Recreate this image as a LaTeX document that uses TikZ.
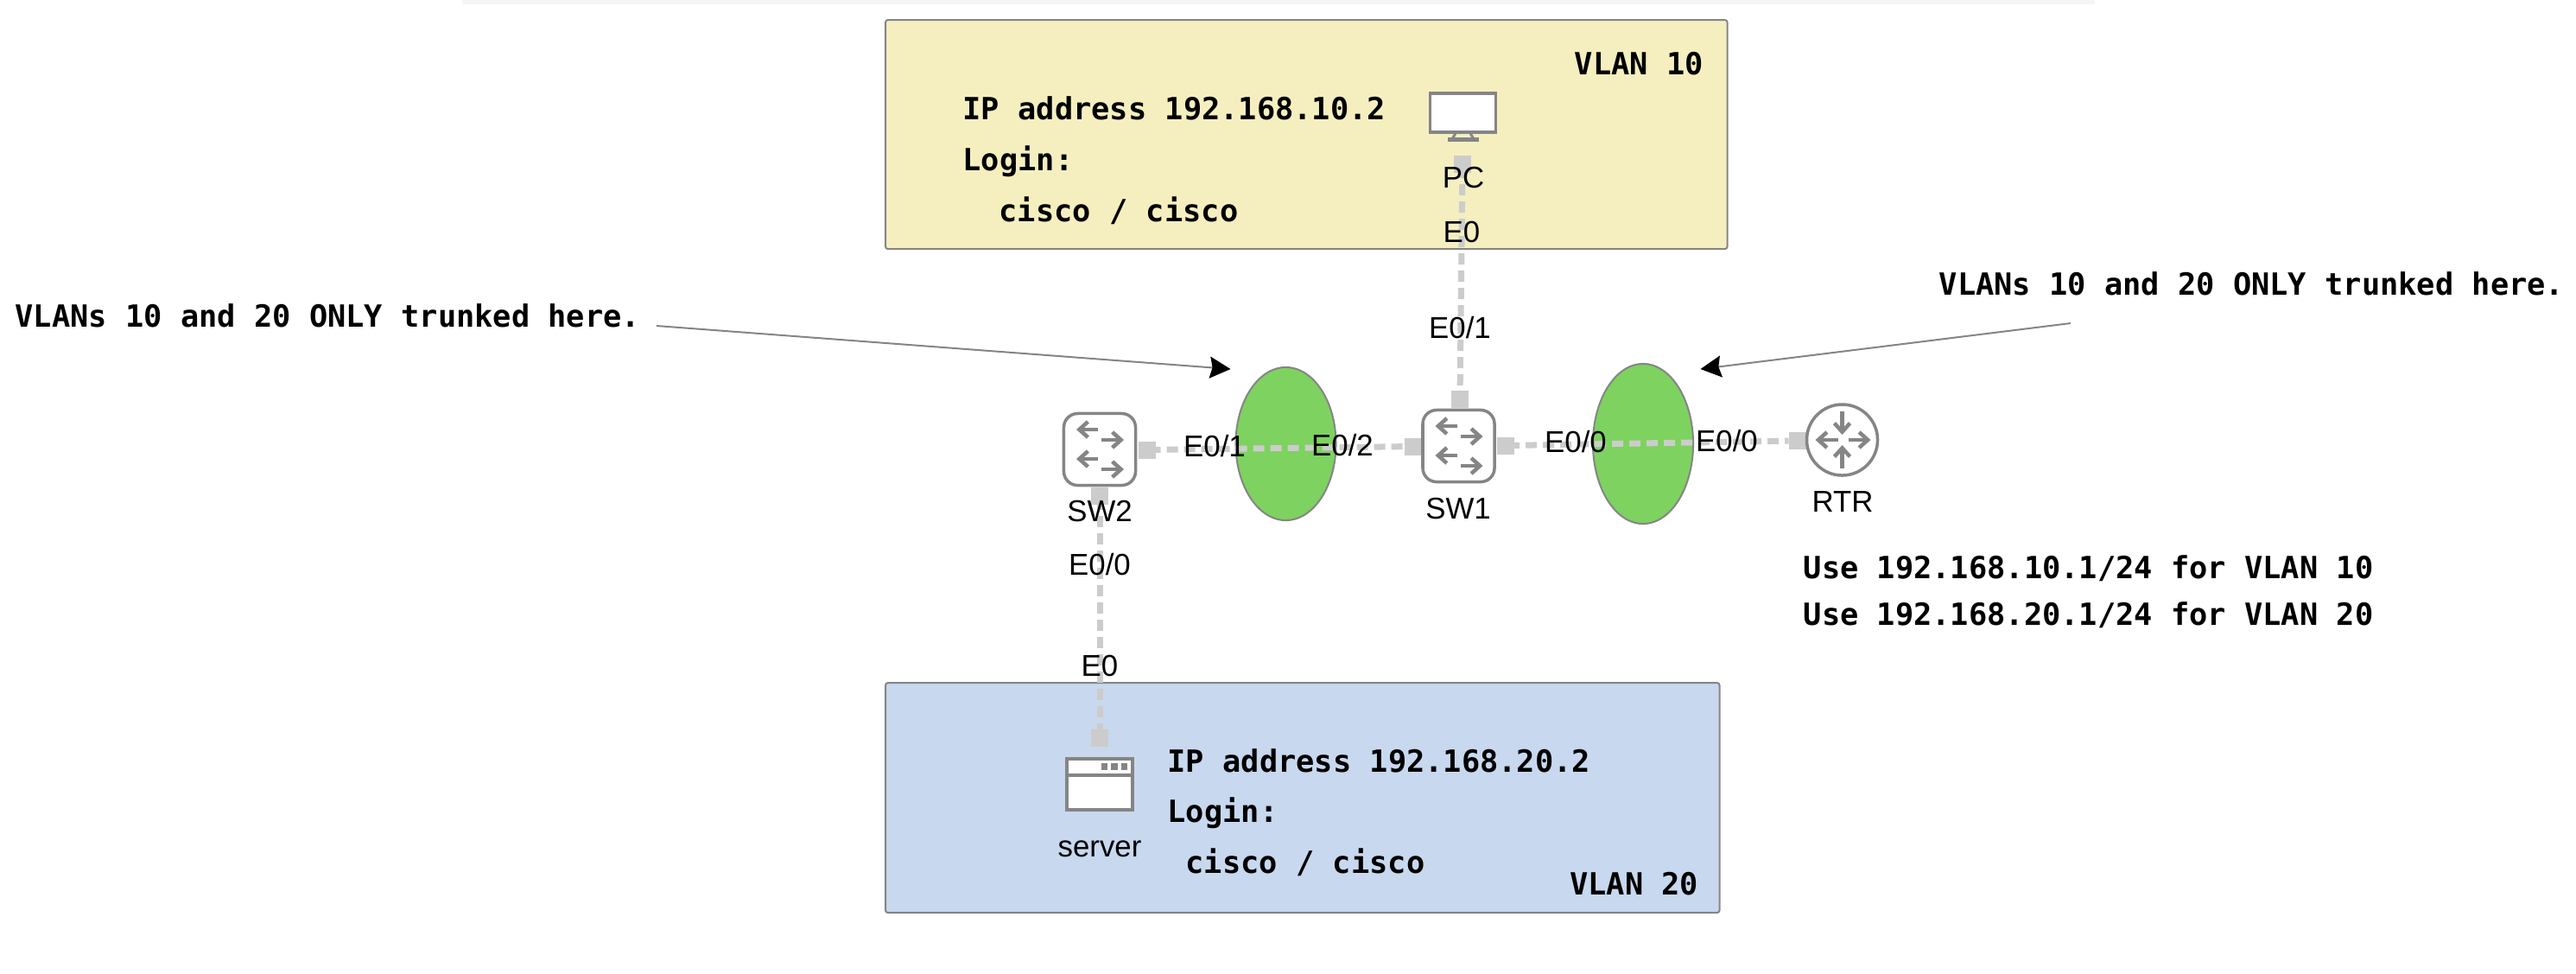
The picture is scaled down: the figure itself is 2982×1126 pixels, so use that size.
\documentclass[tikz,border=0pt]{standalone}
\usepackage{fontspec}
\setmainfont{Liberation Sans}
\setmonofont{DejaVu Sans Mono}
\usetikzlibrary{positioning,shapes.geometric,arrows.meta}

\definecolor{vlanyellow}{HTML}{F5EFC0}
\definecolor{vlanblue}{HTML}{C8D8EE}
\definecolor{trunkgreen}{HTML}{7ED25F}
\definecolor{linkgray}{HTML}{CCCCCC}
\definecolor{icongray}{HTML}{858585}

\tikzset{
    vlanbox/.style={draw=icongray, line width=0.02cm, rounded corners=0.03cm, anchor=north west, inner sep=0, outer sep=0},
    trunk/.style={ellipse, draw=icongray, fill=trunkgreen, line width=0.02cm, minimum width=1.16cm, inner sep=0, outer sep=0},
    link/.style={linkgray, line width=0.07cm, dash pattern=on 0.13cm off 0.07cm, dash phase=0.07cm},
    port/.style={fill=linkgray, minimum size=0.2cm, inner sep=0, outer sep=0},
    switchicon/.style={draw=icongray, fill=white, line width=0.035cm, rounded corners=0.16cm, minimum size=0.83cm, inner sep=0},
    iconarrow/.style={icongray, line width=0.045cm, -{Straight Barb[length=0.1cm,width=0.18cm]}},
    note/.style={icongray, line width=0.02cm, -{Stealth[length=0.24cm,width=0.25cm,inset=0.03cm,color=black]}},
    mono/.style={anchor=base west, inner sep=0, font=\ttfamily\bfseries\fontsize{10.05pt}{11pt}\selectfont},
    tag/.style={anchor=base, inner sep=0, font=\fontsize{9.9pt}{11pt}\selectfont},
}

\begin{document}
\begin{tikzpicture}[x=0.01cm, y=-0.01cm]
    \useasboundingbox (0,0) rectangle (2982,1126);
    \fill[black!4] (535,0) rectangle (2425,5);

    % vlan boxes
    \node[vlanbox, fill=vlanyellow, minimum width=9.74cm, minimum height=2.65cm] (vlanten) at (1025,23) {};
    \node[vlanbox, fill=vlanblue, minimum width=9.65cm, minimum height=2.66cm] (vlantwenty) at (1025,790) {};

    % trunks
    \node[trunk, minimum height=1.77cm] (trunkleft) at (1488.5,513.5) {};
    \node[trunk, minimum height=1.85cm] (trunkright) at (1902,513.5) {};

    % ports
    \node[port] (pcs) at (1693,190) {};
    \node[port] (sw1n) at (1690,462) {};
    \node[port] (sw2e) at (1327.5,520.5) {};
    \node[port] (sw1w) at (1636,516.5) {};
    \node[port] (sw1e) at (1743,515.5) {};
    \node[port] (rtrw) at (2080.5,510) {};
    \node[port] (sw2s) at (1273,574) {};
    \node[port] (servern) at (1273,854) {};

    % links
    \draw[link] (pcs) -- (sw1n);
    \draw[link] (sw2e) -- (sw1w);
    \draw[link] (sw1e) -- (rtrw);
    \draw[link] (sw2s) -- (servern);

    % switches
    \node[switchicon] (sw2) at (1273,520) {};
    \node[switchicon] (sw1) at (1688.5,516) {};
    \foreach \sw in {sw2, sw1} {
        \draw[iconarrow] (\sw) ++(-2,-23) -- ++(-25,0);
        \draw[iconarrow] (\sw) ++(2,-11) -- ++(26,0);
        \draw[iconarrow] (\sw) ++(-2,11) -- ++(-25,0);
        \draw[iconarrow] (\sw) ++(2,23) -- ++(26,0);
    }

    % router
    \node[circle, draw=icongray, fill=white, line width=0.035cm, minimum size=0.82cm, inner sep=0] (rtr) at (2132.5,509) {};
    \draw[iconarrow] (rtr) ++(0,-33) -- ++(0,27);
    \draw[iconarrow] (rtr) ++(0,33) -- ++(0,-27);
    \draw[iconarrow] (rtr) ++(-5,0) -- ++(-26,0);
    \draw[iconarrow] (rtr) ++(7,0) -- ++(26,0);

    % pc
    \node[draw=icongray, fill=white, line width=0.035cm, minimum width=0.76cm, minimum height=0.45cm, inner sep=0] (pc) at (1693.5,130.5) {};
    \draw[icongray, line width=0.03cm] (1685,154) -- (1681,161) -- (1706,161) -- (1702,154);
    \draw[icongray, line width=0.05cm] (1676,161.5) -- (1712,161.5);

    % server
    \node[draw=icongray, fill=white, line width=0.04cm, minimum width=0.76cm, minimum height=0.59cm, inner sep=0] (server) at (1273,907.5) {};
    \draw[icongray, line width=0.04cm] (server.west |- 0,897) -- (server.east |- 0,897);
    \foreach \x in {1278.5,1290,1301.5} {
        \fill[icongray] (\x-3.7,883) rectangle (\x+3.7,891);
    }

    % device and port labels
    \node[tag] (pclabel) at (1694,217) {PC};
    \node[tag] (pcport) at (1692,280) {E0};
    \node[tag] (sw1port) at (1690,391) {E0/1};
    \node[tag] (sw2label) at (1273,603) {SW2};
    \node[tag] (sw1label) at (1688,600) {SW1};
    \node[tag] (rtrlabel) at (2133,592) {RTR};
    \node[tag] (serverlabel) at (1273,991) {server};
    \node[tag] (sw2right) at (1406,528) {E0/1};
    \node[tag] (sw1left) at (1554,527) {E0/2};
    \node[tag] (sw1right) at (1824,523) {E0/0};
    \node[tag] (rtrleft) at (1999,522) {E0/0};
    \node[tag] (sw2down) at (1273,665) {E0/0};
    \node[tag] (serverport) at (1273,782) {E0};

    % texts
    \node[mono] (ipten) at (1114,138) {IP address 192.168.10.2};
    \node[mono] (loginten) at (1114,197) {Login:};
    \node[mono] (credten) at (1156,256) {cisco / cisco};
    \node[mono] (nameten) at (1822,86) {VLAN 10};
    \node[mono] (iptwenty) at (1351,893) {IP address 192.168.20.2};
    \node[mono] (logintwenty) at (1351,951) {Login:};
    \node[mono] (credtwenty) at (1372,1010) {cisco / cisco};
    \node[mono] (nametwenty) at (1816.5,1035) {VLAN 20};
    \node[mono] (noteleft) at (17,378) {VLANs 10 and 20 ONLY trunked here.};
    \node[mono] (noteright) at (2244,341) {VLANs 10 and 20 ONLY trunked here.};
    \node[mono] (useten) at (2087,669) {Use 192.168.10.1/24 for VLAN 10};
    \node[mono] (usetwenty) at (2087,723) {Use 192.168.20.1/24 for VLAN 20};

    % notes
    \coordinate (tailleft) at (760,377);
    \coordinate (tipleft) at (1424.5,427);
    \coordinate (tailright) at (2397,374);
    \coordinate (tipright) at (1968.5,427);
    \draw[note] (tailleft) -- (tipleft);
    \draw[note] (tailright) -- (tipright);
\end{tikzpicture}
\end{document}
